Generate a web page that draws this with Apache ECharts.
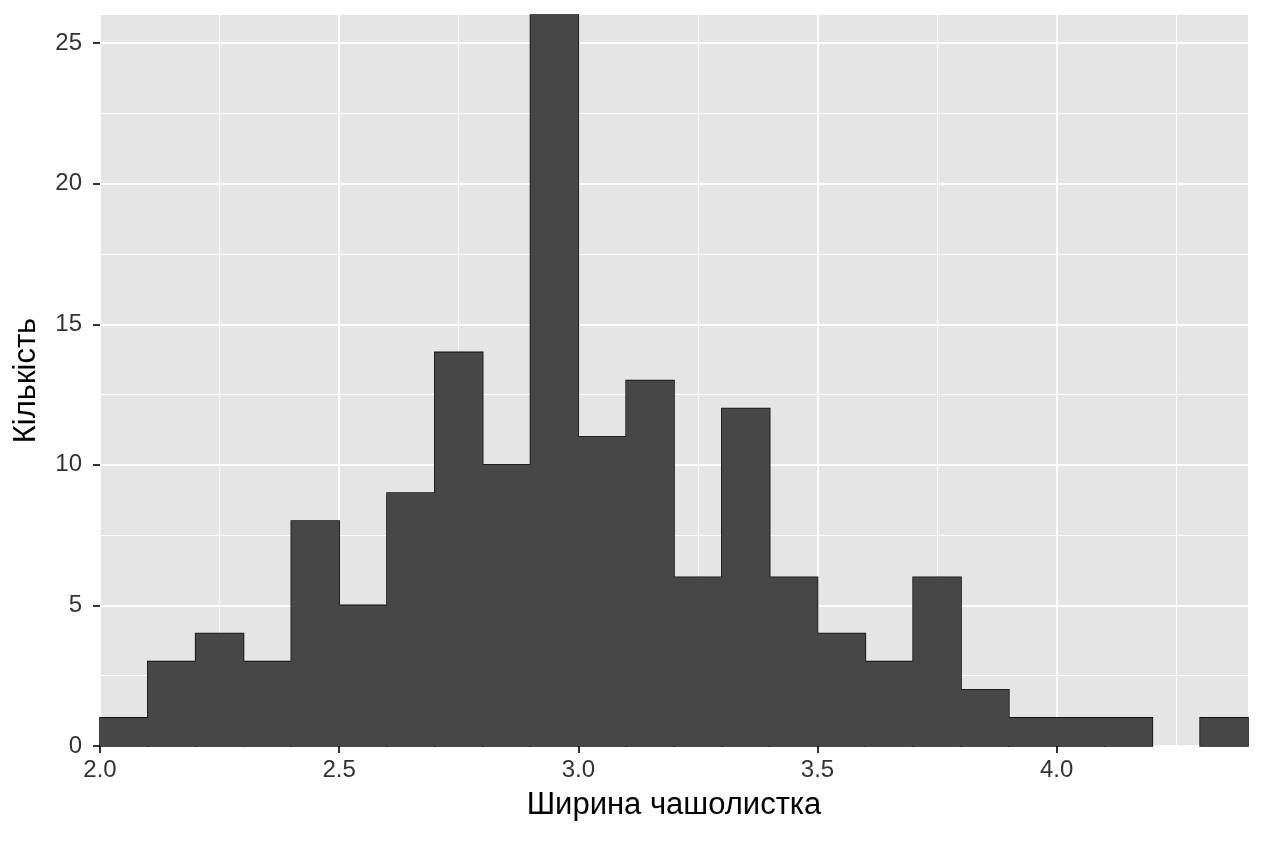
<!DOCTYPE html>
<html>
<head>
<meta charset="utf-8">
<title>Гістограма</title>
<script src="https://cdn.jsdelivr.net/npm/echarts@6/dist/echarts.min.js"></script>
<style>
  html,body{margin:0;padding:0;width:100%;height:100%;background:#FFFFFF}
  #chart{width:1264px;height:843px}
</style>
</head>
<body>
<div id="chart"></div>
<script>
// bin starts (width 0.1) and counts
var binStarts = [2.0, 2.1, 2.2, 2.3, 2.4, 2.5, 2.6, 2.7, 2.8, 2.9, 3.0, 3.1,
                 3.2, 3.3, 3.4, 3.5, 3.6, 3.7, 3.8, 3.9, 4.0, 4.1, 4.2, 4.3];
var counts    = [1, 3, 4, 3, 8, 5, 9, 14, 10, 26, 11, 13,
                 6, 12, 6, 4, 3, 6, 2, 1, 1, 1, 0, 1];
var binWidth = 0.1;
var xTicks = [2.0, 2.5, 3.0, 3.5, 4.0];
var yTicks = [0, 5, 10, 15, 20, 25];

var data = binStarts.map(function (s, i) { return [s, s + binWidth, counts[i]]; });

var chart = echarts.init(document.getElementById('chart'));
var font = 'Liberation Sans, Arial, Helvetica, sans-serif';
var barFill = '#474747';

// outline pass and fill pass: the fill hides the strokes between touching bars,
// so only the outer edge of the histogram shows a dark line
function barRenderer(outline) {
  return function (params, api) {
    var i = params.dataIndex;
    if (api.value(2) <= 0) return null;
    var p0 = api.coord([api.value(0), 0]);
    var p1 = api.coord([api.value(1), api.value(2)]);
    var shape = {x: p0[0], y: p1[1], width: p1[0] - p0[0], height: p0[1] - p1[1]};
    if (outline) {
      return {type: 'rect', shape: shape, style: {fill: 'none', stroke: '#111111', lineWidth: 1.6}};
    }
    var children = [{type: 'rect', shape: shape, style: {fill: barFill}}];
    var shared = Math.min(counts[i], counts[i + 1] || 0);
    if (shared > 0) {
      // strip over the seam with the next bar, up to the lower of the two heights
      var ps = api.coord([api.value(1), shared]);
      children.push({type: 'rect', shape: {x: ps[0] - 1.2, y: ps[1], width: 2.4, height: p0[1] - ps[1]},
                     style: {fill: barFill}});
    }
    return {type: 'group', children: children};
  };
}

chart.setOption({
  animation: false,
  backgroundColor: '#FFFFFF',
  grid: {left: 100, right: 16, top: 15, bottom: 97, show: true, backgroundColor: '#E5E5E5', borderWidth: 0},
  xAxis: {
    type: 'value', min: 2.0, max: 4.4, interval: 0.5,
    name: 'Ширина чашолистка', nameLocation: 'middle', nameGap: 44,
    nameTextStyle: {fontFamily: font, fontSize: 31, color: '#000000'},
    axisLine: {show: false},
    axisTick: {show: true, length: 7, customValues: xTicks, lineStyle: {color: '#333333', width: 2}},
    axisLabel: {margin: 12, customValues: xTicks, fontFamily: font, fontSize: 24, color: '#333333',
                formatter: function (v) { return v.toFixed(1); }},
    splitLine: {show: true, lineStyle: {color: '#FFFFFF', width: 2}},
    minorTick: {show: false, splitNumber: 2},
    minorSplitLine: {show: true, lineStyle: {color: '#FFFFFF', width: 1}}
  },
  yAxis: {
    type: 'value', min: 0, max: 26, interval: 5,
    name: 'Кількість', nameLocation: 'middle', nameGap: 58, nameRotate: 90,
    nameTextStyle: {fontFamily: font, fontSize: 31, color: '#000000'},
    axisLine: {show: false},
    axisTick: {show: true, length: 7, customValues: yTicks, lineStyle: {color: '#333333', width: 2}},
    axisLabel: {margin: 18, customValues: yTicks, fontFamily: font, fontSize: 24, color: '#333333'},
    splitLine: {show: true, lineStyle: {color: '#FFFFFF', width: 2}},
    minorTick: {show: false, splitNumber: 2},
    minorSplitLine: {show: true, lineStyle: {color: '#FFFFFF', width: 1}}
  },
  series: [{
    type: 'custom', z: 2,
    data: data,
    encode: {x: [0, 1], y: 2},
    renderItem: barRenderer(true)
  }, {
    type: 'custom', z: 3,
    data: data,
    encode: {x: [0, 1], y: 2},
    renderItem: barRenderer(false)
  }]
});
</script>
</body>
</html>
